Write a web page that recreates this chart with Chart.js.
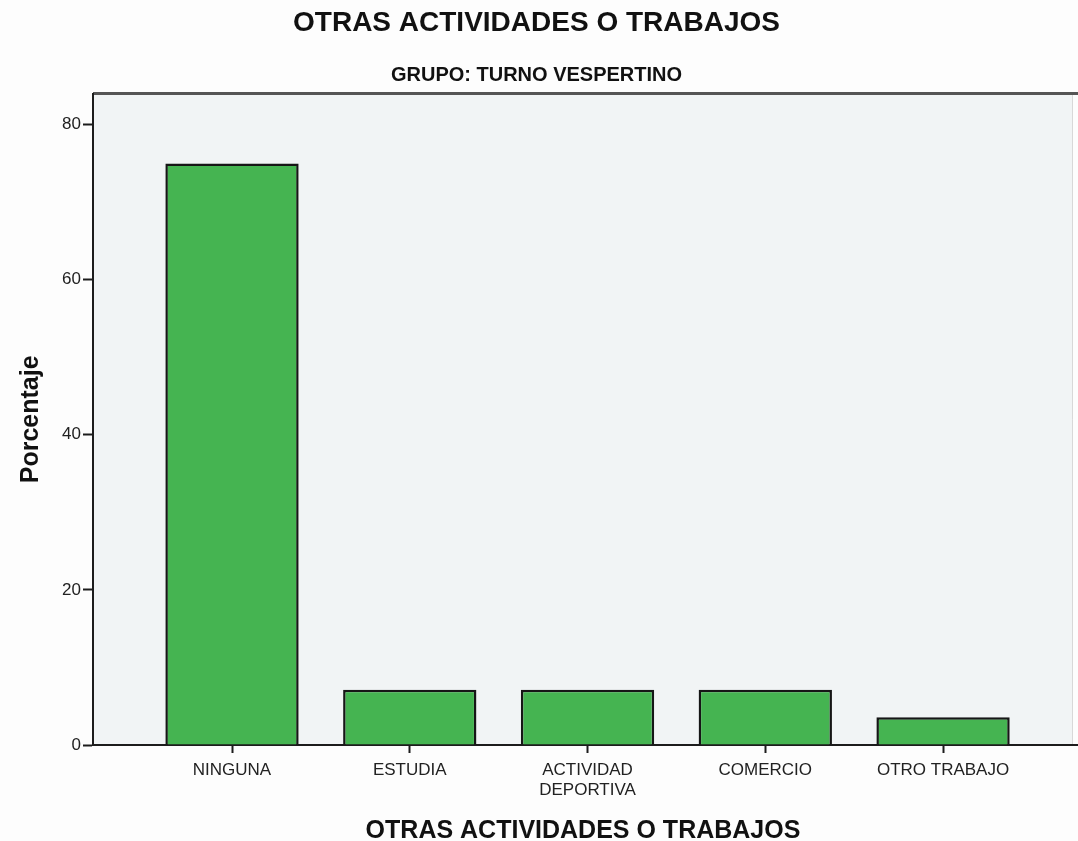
<!DOCTYPE html>
<html lang="es">
<head>
<meta charset="utf-8">
<title>Otras actividades o trabajos</title>
<script src="https://cdn.jsdelivr.net/npm/chart.js@4/dist/chart.umd.min.js"></script>
<style>
    html, body { margin: 0; padding: 0; background: #fdfdfd; }
    #wrap { width: 1078px; height: 841px; }
</style>
</head>
<body>
<div id="wrap"><canvas id="grafico"></canvas></div>
<script>
// Datos del gráfico
const categorias = ['NINGUNA', 'ESTUDIA', ['ACTIVIDAD', 'DEPORTIVA'], 'COMERCIO', 'OTRO TRABAJO'];
const porcentajes = [75.0, 7.14, 7.14, 7.14, 3.57];
const ticksY = [0, 20, 40, 60, 80];

const FUENTE = '"Liberation Sans", Arial, sans-serif';
const TINTA = '#1c1c1c';

// Fondo gris del área de trazado y marco superior
const marcoPlugin = {
    id: 'marco',
    beforeDraw(chart) {
        const { ctx, chartArea: a, width } = chart;
        ctx.save();
        ctx.fillStyle = '#f1f4f5';
        ctx.fillRect(a.left, a.top, a.right - a.left, a.bottom - a.top);
        ctx.strokeStyle = '#d8d8d8';
        ctx.lineWidth = 1;
        ctx.beginPath();
        ctx.moveTo(a.right - 0.5, a.top);
        ctx.lineTo(a.right - 0.5, a.bottom);
        ctx.stroke();
        ctx.strokeStyle = '#555';
        ctx.lineWidth = 3;
        ctx.beginPath();
        ctx.moveTo(a.left, a.top);
        ctx.lineTo(width, a.top);
        ctx.stroke();
        ctx.restore();
    },
    afterDraw(chart) {
        // el eje X se prolonga hasta el borde derecho
        const { ctx, chartArea: a, width } = chart;
        ctx.save();
        ctx.strokeStyle = TINTA;
        ctx.lineWidth = 2;
        ctx.beginPath();
        ctx.moveTo(a.right, a.bottom);
        ctx.lineTo(width, a.bottom);
        ctx.stroke();
        ctx.restore();
    }
};

const ctx = document.getElementById('grafico').getContext('2d');

new Chart(ctx, {
    type: 'bar',
    data: {
        datasets: [{
            label: 'Porcentaje',
            data: porcentajes.map((v, i) => ({ x: i + 1, y: v })),
            backgroundColor: '#45b451',
            borderColor: '#161616',
            borderWidth: 2.5,
            categoryPercentage: 1,
            barPercentage: 0.75
        }]
    },
    options: {
        responsive: true,
        maintainAspectRatio: false,
        animation: false,
        layout: { padding: { left: 0, right: 5, top: 0, bottom: 0 } },
        plugins: {
            legend: { display: false },
            tooltip: { enabled: false },
            title: {
                display: true,
                text: 'OTRAS ACTIVIDADES O TRABAJOS',
                color: '#111',
                font: { family: FUENTE, size: 28, weight: 'bold' },
                padding: { top: 6, bottom: 8 }
            },
            subtitle: {
                display: true,
                text: 'GRUPO: TURNO VESPERTINO',
                color: '#111',
                font: { family: FUENTE, size: 20, weight: 'bold' },
                padding: { top: 16, bottom: 6 }
            }
        },
        scales: {
            x: {
                type: 'linear',
                offset: false,
                min: 0.218,
                max: 5.731,
                afterFit(scale) { scale.height = 96; },
                grid: { display: true, offset: false, drawOnChartArea: false, drawTicks: true, tickLength: 8, tickWidth: 2, color: TINTA },
                border: { display: true, color: TINTA, width: 2 },
                ticks: {
                    stepSize: 1,
                    includeBounds: false,
                    autoSkip: false,
                    maxRotation: 0,
                    padding: 7,
                    color: '#222',
                    font: { family: FUENTE, size: 17 },
                    callback: (v) => categorias[v - 1] ?? ''
                },
                title: {
                    display: true,
                    text: 'OTRAS ACTIVIDADES O TRABAJOS',
                    color: '#111',
                    font: { family: FUENTE, size: 25, weight: 'bold' },
                    padding: { top: 0, bottom: -5 }
                }
            },
            y: {
                min: 0,
                max: 84,
                afterFit(scale) { scale.width = 93; },
                grid: { display: true, drawOnChartArea: false, drawTicks: true, tickLength: 10, tickWidth: 2, color: TINTA },
                border: { display: true, color: TINTA, width: 2 },
                afterBuildTicks(scale) { scale.ticks = ticksY.map(v => ({ value: v })); },
                ticks: {
                    padding: 2,
                    color: '#222',
                    font: { family: FUENTE, size: 17 }
                },
                title: {
                    display: true,
                    text: 'Porcentaje',
                    color: '#111',
                    font: { family: FUENTE, size: 25, weight: 'bold' },
                    padding: { top: 16, bottom: 0 }
                }
            }
        }
    },
    plugins: [marcoPlugin]
});
</script>
</body>
</html>
